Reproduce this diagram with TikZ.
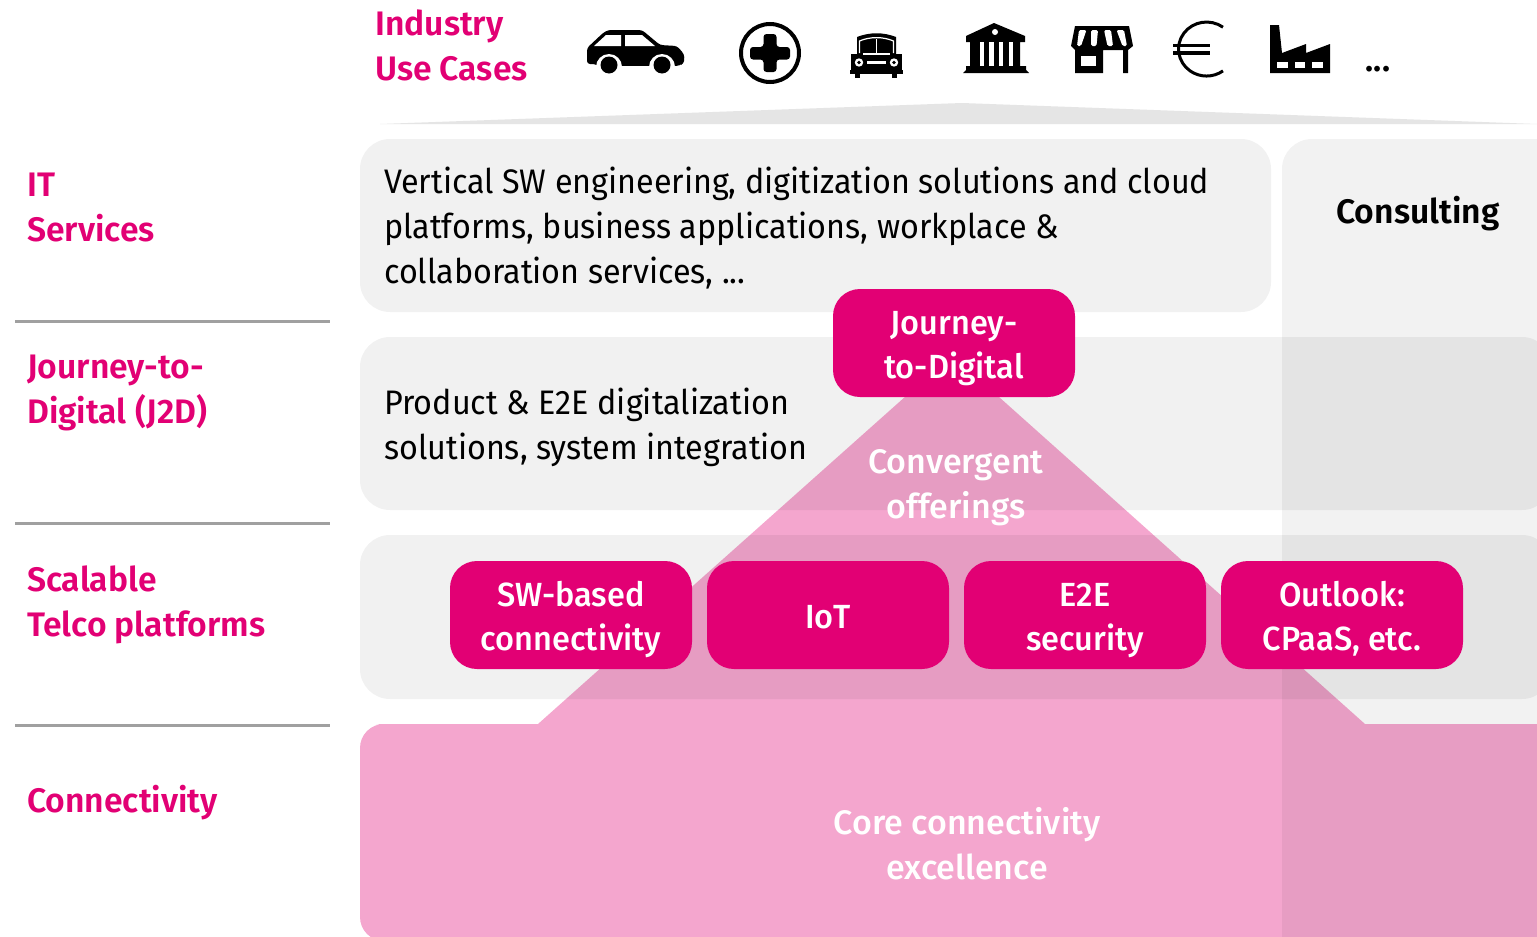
\documentclass[tikz,border=0pt]{standalone}
\usepackage{fontspec}
\setmainfont[FakeStretch=0.95,BoldFont={Fira Sans Medium},BoldFeatures={FakeStretch=1.0}]{Fira Sans}
\newfontfamily\labf[FakeStretch=0.99]{Fira Sans SemiBold}
\newfontfamily\pillf[FakeStretch=0.97]{Fira Sans Medium}
\usetikzlibrary{calc}
\definecolor{mag}{HTML}{E20074}
\definecolor{wedge}{HTML}{E5E5E5}
\definecolor{rulegrey}{HTML}{A0A0A0}
\tikzset{
  txt/.style={inner sep=0pt,font=\fontsize{34}{45}\selectfont,align=left,anchor=west},
  lab/.style={txt,text=mag,font=\fontsize{34}{45}\labf},
  ctr/.style={txt,align=center,anchor=center},
  ovl/.style={ctr,text=white,font=\fontsize{34}{45}\selectfont\bfseries},
  pill/.style={fill=mag,rounded corners=27pt,draw=none},
  pilltxt/.style={ctr,text=white,font=\fontsize{33.5}{44}\pillf},
  bandbox/.style={fill=black,fill opacity=.055,rounded corners=30pt,draw=none},
  sep/.style={draw=rulegrey,line width=2.6pt},
  pinkfill/.style={fill=mag,fill opacity=.35},
}
\begin{document}
\begin{tikzpicture}[x=1pt,y=-1pt]
\useasboundingbox (0,0) rectangle (1537,937);
\fill[white] (0,0) rectangle (1537,937);
\begin{scope}
\clip (0,0) rectangle (1537,937);
% wedge
\fill[wedge] (380,124) -- (962,103) -- (1537,124) -- cycle;
% pink pyramid and base (one path, no overlap)
\path[pinkfill,rounded corners=0pt] (952,355) -- (1365,724) -- (1560,724) -- (1560,941)
  -- (384,941) [rounded corners=24pt] -- (360,941) -- (360,724) -- (400,724) [rounded corners=0pt] -- (538,724) -- cycle;
% bands
\path[bandbox] (360,139) rectangle (1271,312);
\path[bandbox] (360,337) rectangle (1552,510);
\path[bandbox] (360,535) rectangle (1552,699);
% consulting overlay
\fill[black,fill opacity=.05,rounded corners=30pt] (1282,139) -- (1600,139) -- (1600,1000) -- (1282,1000) -- cycle;
\end{scope}
% separators
\coordinate (s1a) at (15,321.5); \coordinate (s1b) at (330,321.5);
\coordinate (s2a) at (15,523.5); \coordinate (s2b) at (330,523.5);
\coordinate (s3a) at (15,725.5); \coordinate (s3b) at (330,725.5);
\draw[sep] (s1a) -- (s1b);
\draw[sep] (s2a) -- (s2b);
\draw[sep] (s3a) -- (s3b);
% left labels
\node[lab] (lit) at (27,209.5) {\strut IT\\\strut Services};
\node[lab] (lj2d) at (27,391.5) {\strut Journey-to-\\\strut Digital (J2D)};
\node[lab] (ltp) at (27,604.5) {\strut Scalable\\\strut Telco platforms};
\node[lab] (lcon) at (27,803) {\strut Connectivity};
\node[lab] (lind) at (375,48.5) {\strut Industry\\\strut Use Cases};
% band texts
\node[txt] (tit) at (384,229) {\strut Vertical SW engineering, digitization solutions and cloud\\platforms, business applications, workplace \&\\\strut collaboration services, ...};
\node[txt] (tj2d) at (384,427.5) {\strut Product \& E2E digitalization\\\strut solutions, system integration};
\node[ctr,font=\fontsize{34}{45}\labf] (tcons) at (1418,214) {\strut Consulting};
\node[ovl] (tconv) at (956,486.5) {\strut Convergent\\\strut offerings};
\node[ovl] (tcore) at (967,847.5) {\strut Core connectivity\\\strut excellence};
% magenta boxes
\path[pill] (833,289) rectangle (1075,397);
\path[pill] (450,561) rectangle (692,669);
\path[pill] (707,561) rectangle (949,669);
\path[pill] (964,561) rectangle (1206,669);
\path[pill] (1221,561) rectangle (1463,669);
\node[pilltxt] (bj) at (954,347.5) {\strut Journey-\\\strut to-Digital};
\node[pilltxt] (bsw) at (571,619.5) {\strut SW-based\\\strut connectivity};
\node[pilltxt] (biot) at (828,619.5) {\strut IoT};
\node[pilltxt] (be2e) at (1085,619.5) {\strut E2E\\\strut security};
\node[pilltxt] (bout) at (1342,619.5) {\strut Outlook:\\\strut CPaaS, etc.};
% icon: car
\fill[black,rounded corners=3pt] (587,48) -- (603,33) -- (608,30) -- (642,30) -- (660,45) -- (677,46) -- (684,54) -- (684,64) -- (587,64) -- cycle;
\fill[black,rounded corners=4pt] (587,50) -- (587,62) -- (600,66) -- (680,66) -- (684,62) -- (684,52) -- cycle;
\fill[white] (594,46) -- (606,35) -- (621,35) -- (621,46) -- cycle;
\fill[white] (625,35) -- (642,35) -- (655,46) -- (625,46) -- cycle;
\fill[white] (609,67) circle (13);
\fill[white] (662,67) circle (13);
\fill[white] (590,66) rectangle (684,74);
\fill[black] (609,65) circle (8.5);
\fill[black] (662,65) circle (8.5);
% icon: medical
\draw[black,line width=4pt] (770,53) circle (29);
\fill[black,rounded corners=3pt] (763.5,34) -- (776.5,34) -- (776.5,47) -- (790,47) -- (790,59.5) -- (776.5,59.5) -- (776.5,72) -- (763.5,72) -- (763.5,59.5) -- (750,59.5) -- (750,47) -- (763.5,47) -- cycle;
% icon: front car
\fill[black] (851,54) rectangle (902,73);
\fill[black] (850,70) rectangle (903,74);
\fill[black] (855,73) rectangle (860,78);
\fill[black] (892,73) rectangle (897,78);
\fill[black] (857,54) -- (857,37) .. controls (870,32) and (883,32) .. (896,37) -- (896,54) -- cycle;
\draw[white,line width=1.2pt] (859.5,53) -- (859.5,41) .. controls (870,36.5) and (883,36.5) .. (893.5,41) -- (893.5,53);
\draw[white,line width=1.2pt] (876.5,39) -- (876.5,53);
\fill[white] (863,53) rectangle (890,54.5);
\fill[white] (859,62.5) circle (4.2);
\fill[white] (894,62.5) circle (4.2);
\fill[black] (859,62.5) circle (1.8);
\fill[black] (894,62.5) circle (1.8);
\fill[white] (867,61) rectangle (886,64);
% icon: bank
\fill[black] (994,23) -- (1025,36) -- (1025,42) -- (1020,42) -- (1020,66) -- (1026,66) -- (1026,70) -- (1029,73) -- (963,73) -- (966,70) -- (966,66) -- (970,66) -- (970,42) -- (966,42) -- (966,36) -- cycle;
\foreach \gx in {979.5,989,998.5,1008.5} \fill[white] (\gx,42) rectangle (\gx+4.5,66);
\fill[white] (995,32) circle (3);
% icon: shop
\fill[black] (1075,26) -- (1129,26) -- (1133,46) -- (1128,50) -- (1128,73) -- (1123,73) -- (1123,50) -- (1103,50) -- (1103,73) -- (1075,73) -- (1075,50) -- (1071,46) -- cycle;
\fill[white] (1081,56) rectangle (1096,66);
\fill[white,rounded corners=1.5pt] (1079,30) -- (1086.5,30) -- (1081,46) -- (1077,46) -- cycle;
\fill[white,rounded corners=1.5pt] (1091,30) -- (1098,30) -- (1096.5,46) -- (1091,46) -- cycle;
\fill[white,rounded corners=1.5pt] (1104,30) -- (1111,30) -- (1113,46) -- (1107.5,46) -- cycle;
\fill[white,rounded corners=1.5pt] (1116.5,30) -- (1124,30) -- (1127,46) -- (1122.5,46) -- cycle;
% icon: euro
\draw[black,line width=3pt] (1223,27.2) arc[start angle=-54,end angle=-306,x radius=28,y radius=27];
\fill[black] (1173,43.5) rectangle (1210,47);
\fill[black] (1173,51) rectangle (1210,54.5);
% icon: factory
\fill[black] (1270,25) -- (1279,25) -- (1282,53) -- (1306,44) -- (1306,53) -- (1330,44) -- (1330,73) -- (1270,73) -- cycle;
\foreach \wx in {1277,1294.5,1312} \fill[white] (\wx,62) rectangle (\wx+10.5,68);
\node[inner sep=0pt,font=\fontsize{34}{45}\labf,anchor=base] (dots) at (1378,71) {...};
\end{tikzpicture}
\end{document}
